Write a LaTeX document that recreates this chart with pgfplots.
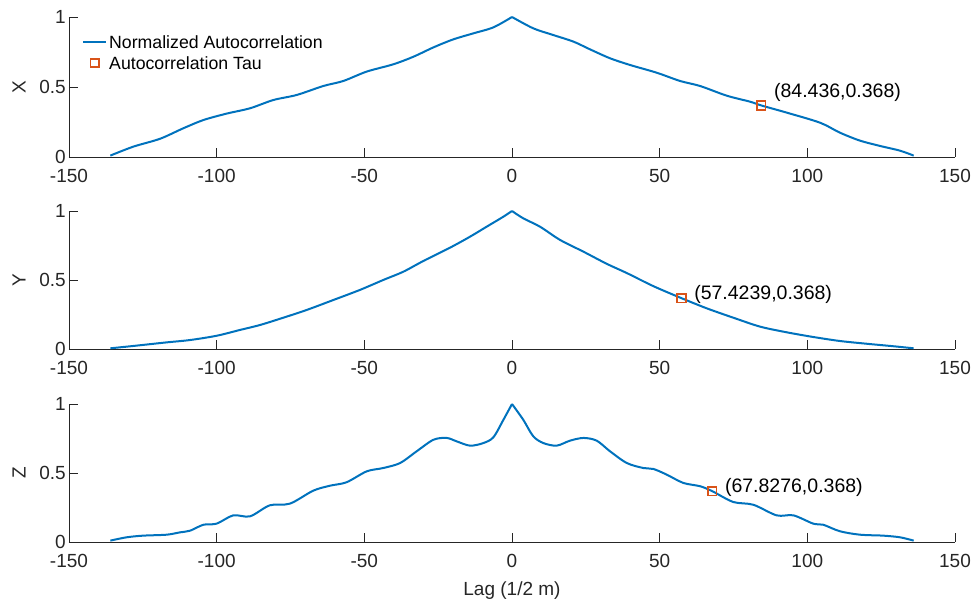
\documentclass[border=0pt]{standalone}
\usepackage{fontspec}
\setmainfont{Liberation Sans}
\usepackage{pgfplots}
\pgfplotsset{compat=1.18}
\definecolor{mblue}{HTML}{0072BD}
\definecolor{morange}{HTML}{D95319}
\definecolor{maxis}{HTML}{262626}

\tikzset{annot/.style={anchor=west, inner sep=0pt, font=\fontsize{19.5}{22}\selectfont, text=black}}
\pgfplotsset{
  mystyle/.style={
    scale only axis, width=886pt, height=140pt,
    xmin=-150, xmax=150, ymin=0, ymax=1,
    axis x line=bottom, axis y line=left,
    axis line style={-, draw=maxis, line width=0.7pt},
    xtick={-150,-100,...,150}, ytick={0,0.5,1},
    tick align=inside, major tick length=9pt,
    tick style={draw=maxis, line width=0.7pt},
    /pgf/number format/assume math mode=true,
    ticklabel style={font=\fontsize{19}{22}\selectfont, text=maxis},
    xticklabel style={anchor=base, yshift=-26pt, inner sep=0pt},
    yticklabel style={anchor=east, inner sep=0pt, xshift=-3pt},
    every axis y label/.style={at={(axis description cs:0,0.5)}, xshift=-50pt, rotate=90, anchor=center, font=\fontsize{19}{22}\selectfont, text=maxis},
    every axis x label/.style={at={(axis description cs:0.5,0)}, yshift=-54pt, anchor=base, font=\fontsize{19}{22}\selectfont, text=maxis},
    clip=false,
  },
  curve/.style={mblue, line width=2pt, no marks, smooth, tension=0.5},
  tau/.style={only marks, mark=square, mark size=4.2pt, morange, mark options={draw=morange, line width=1.8pt}},
}

\begin{document}
\begin{tikzpicture}
\useasboundingbox (0pt,0pt) rectangle (977pt,604pt);

% ---------- X ----------
\begin{axis}[mystyle, at={(69pt,447pt)}, anchor=south west, height=140pt,
  ylabel={X},
  legend style={draw=none, fill=none, at={(axis description cs:0,1)}, anchor=north west,
    xshift=10pt, yshift=-15pt, font=\fontsize{17.7}{20}\selectfont,
    nodes={text height=12.5pt, text depth=0pt, inner sep=2pt}, row sep=4pt},
  legend cell align=left,
  legend image code/.code={\draw[mark repeat=2,mark phase=2,#1] plot coordinates {(0pt,0pt) (11.5pt,0pt) (23pt,0pt)};},
]
\addplot[curve] coordinates {(-136,0.01) (-128.2,0.074) (-119.2,0.13) (-111.3,0.205) (-104.5,0.264) (-96.6,0.31) (-88.7,0.348) (-80.8,0.407) (-72.9,0.443) (-63.9,0.507) (-57.1,0.543) (-49.2,0.61) (-40.2,0.662) (-33.4,0.716) (-26.6,0.783) (-19.9,0.84) (-13.1,0.883) (-6.3,0.926) (0,1)};
\addlegendentry{Normalized Autocorrelation}
\addplot[tau] coordinates {(84.436,0.368)};
\addlegendentry{Autocorrelation Tau}
\addplot[curve, forget plot] coordinates {(0,1) (7.2,0.919) (14,0.871) (20.8,0.824) (26.4,0.769) (33.2,0.705) (40,0.657) (49,0.602) (56.9,0.543) (63.7,0.507) (72.7,0.438) (80.6,0.395) (84.436,0.368) (93,0.317) (104.3,0.245) (111,0.174) (117.8,0.117) (124.6,0.079) (131.4,0.045) (136,0.01)};
\node[annot, xshift=12.5pt, yshift=13pt] at (axis cs:84.436,0.368) {(84.436,0.368)};
\end{axis}

% ---------- Y ----------
\begin{axis}[mystyle, at={(69pt,255pt)}, anchor=south west, height=138pt,
  ylabel={Y},
]
\addplot[curve] coordinates {(-136,0.005) (-128.2,0.022) (-116.9,0.048) (-109,0.065) (-100,0.096) (-92.1,0.138) (-85.3,0.174) (-77.4,0.227) (-69.5,0.283) (-60.5,0.355) (-51.5,0.428) (-43.6,0.5) (-36.8,0.56) (-30,0.638) (-21,0.734) (-14.2,0.814) (-8.6,0.886) (-2.9,0.959) (0,1)};
\addplot[curve] coordinates {(0,1) (3.8,0.947) (9.5,0.886) (16.3,0.79) (24.2,0.705) (32.1,0.617) (38.9,0.55) (47.9,0.455) (57.42,0.368) (65.9,0.295) (74.9,0.227) (84,0.162) (93,0.121) (102,0.087) (111,0.058) (120.1,0.038) (129.1,0.02) (136,0.005)};
\addplot[tau] coordinates {(57.4239,0.368)};
\node[annot, xshift=12.5pt, yshift=4pt] at (axis cs:57.4239,0.368) {(57.4239,0.368)};
\end{axis}

% ---------- Z ----------
\begin{axis}[mystyle, at={(69pt,62pt)}, anchor=south west, height=138pt,
  ylabel={Z}, xlabel={Lag (1/2 m)},
]
\addplot[curve] coordinates {(-136,0.01) (-130.5,0.034) (-124.9,0.046) (-116.9,0.053) (-112.4,0.07) (-109,0.082) (-104.5,0.125) (-100,0.133) (-94.4,0.193) (-88.7,0.186) (-82,0.266) (-75.2,0.278) (-67.3,0.372) (-61.6,0.408) (-56,0.433) (-49.2,0.512) (-43.6,0.536) (-37.9,0.572) (-32.3,0.657) (-26.6,0.741) (-22.1,0.754) (-18.7,0.729) (-14.2,0.698) (-9.7,0.717) (-6.3,0.759) (-2.9,0.886) (0,1)};
\addplot[curve] coordinates {(0,1) (3.8,0.886) (7.2,0.766) (10.6,0.717) (15.1,0.698) (19.6,0.734) (24.2,0.754) (28.7,0.734) (33.2,0.657) (38.9,0.572) (44.5,0.536) (47.9,0.529) (52.4,0.488) (58,0.428) (63.7,0.404) (67.83,0.368) (74.9,0.29) (81.7,0.27) (89.6,0.193) (95.3,0.193) (102,0.133) (105.4,0.125) (111,0.078) (117.8,0.053) (125.7,0.046) (131.4,0.034) (136,0.01)};
\addplot[tau] coordinates {(67.8276,0.368)};
\node[annot, xshift=12.5pt, yshift=4pt] at (axis cs:67.8276,0.368) {(67.8276,0.368)};
\end{axis}
\end{tikzpicture}
\end{document}
